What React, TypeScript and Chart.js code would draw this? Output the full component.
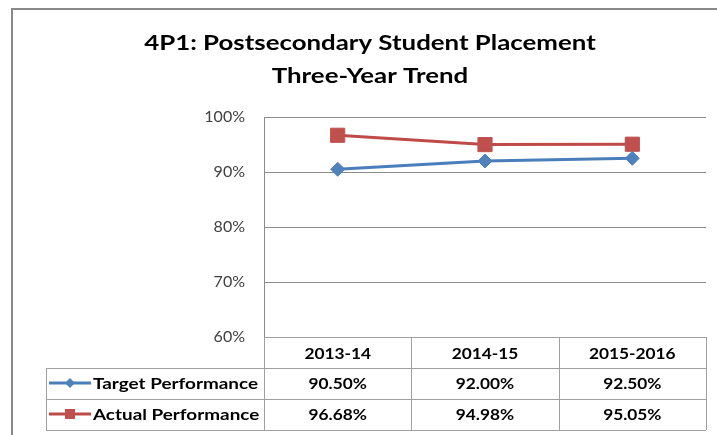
import React, { useEffect, useRef } from "react";
import { Chart, registerables } from "chart.js";

Chart.register(...registerables);

const titleLines = ["4P1: Postsecondary Student Placement", "Three-Year Trend"];
const categories = ["2013-14", "2014-15", "2015-2016"];
const seriesNames = ["Target Performance", "Actual Performance"];
const targetPerformance = [90.5, 92.0, 92.5];
const actualPerformance = [96.68, 94.98, 95.05];
const yMin = 60;
const yMax = 100;
const yStep = 10;

const BLUE_LINE = "#4A7EBB";
const BLUE_MARK = "#4F81BD";
const RED_LINE = "#BE4B48";
const RED_MARK = "#C0504D";
const GRID = "#8C8C8C";
const TABLE_LINE = "#A0A0A0";
const FONT = "Lato, Carlito, 'Open Sans', sans-serif";

const seriesValues = [targetPerformance, actualPerformance];
const seriesStyles = [
  { line: BLUE_LINE, mark: BLUE_MARK, shape: "diamond" },
  { line: RED_LINE, mark: RED_MARK, shape: "square" },
];

function drawMarker(ctx: CanvasRenderingContext2D, shape: string, x: number, y: number, r: number, color: string) {
  ctx.save();
  ctx.fillStyle = color;
  ctx.beginPath();
  if (shape === "diamond") {
    ctx.moveTo(x, y - r);
    ctx.lineTo(x + r, y);
    ctx.lineTo(x, y + r);
    ctx.lineTo(x - r, y);
    ctx.closePath();
  } else {
    ctx.rect(x - r, y - r, 2 * r, 2 * r);
  }
  ctx.fill();
  ctx.restore();
}

function wideText(
  ctx: CanvasRenderingContext2D,
  text: string,
  x: number,
  y: number,
  sx: number,
  align: "left" | "center"
) {
  ctx.save();
  ctx.translate(x, y);
  ctx.scale(sx, 1);
  ctx.textAlign = align;
  ctx.fillText(text, 0, 0);
  ctx.restore();
}

const framePlugin = {
  id: "frameAndTitle",
  beforeDraw(chart: any) {
    const ctx: CanvasRenderingContext2D = chart.ctx;
    ctx.save();
    ctx.fillStyle = "#FFFFFF";
    ctx.fillRect(0, 0, chart.width, chart.height);
    ctx.strokeStyle = "#898989";
    ctx.lineWidth = 2;
    ctx.strokeRect(12, 9, chart.width + 20, chart.height + 20);
    ctx.fillStyle = "#000000";
    ctx.font = `bold 21px ${FONT}`;
    ctx.textBaseline = "alphabetic";
    const cx = 370;
    titleLines.forEach((t, i) => wideText(ctx, t, cx, 50 + i * 33, 1.23, "center"));
    ctx.restore();
  },
};

const tablePlugin = {
  id: "dataTable",
  afterDraw(chart: any) {
    const ctx: CanvasRenderingContext2D = chart.ctx;
    const area = chart.chartArea;
    const xs = chart.scales.x;
    const n = categories.length;
    const colW = (area.right - area.left) / n;
    const rowH = 31;
    const top = area.bottom;
    const legendLeft = 46;
    const bottom = top + rowH * 3;
    ctx.save();
    ctx.strokeStyle = TABLE_LINE;
    ctx.lineWidth = 1;
    const hline = (x1: number, x2: number, y: number) => {
      ctx.beginPath();
      ctx.moveTo(x1, Math.round(y) + 0.5);
      ctx.lineTo(x2, Math.round(y) + 0.5);
      ctx.stroke();
    };
    const vline = (x: number, y1: number, y2: number) => {
      ctx.beginPath();
      ctx.moveTo(Math.round(x) + 0.5, y1);
      ctx.lineTo(Math.round(x) + 0.5, y2);
      ctx.stroke();
    };
    hline(area.left, area.right, top);
    for (let r = 1; r <= 3; r++) hline(legendLeft, area.right, top + r * rowH);
    vline(area.left, top, bottom);
    for (let k = 1; k <= n; k++) vline(area.left + k * colW, top, bottom);
    vline(legendLeft, top + rowH, bottom);

    ctx.fillStyle = "#000000";
    ctx.font = `bold 16px ${FONT}`;
    ctx.textBaseline = "middle";
    categories.forEach((c, i) => {
      wideText(ctx, c, xs.getPixelForValue(i), top + rowH / 2 + 1, 1.08, "center");
    });
    seriesValues.forEach((vals, s) => {
      const cy = top + rowH * (s + 1) + rowH / 2 + 0.5;
      vals.forEach((v, i) => {
        wideText(ctx, v.toFixed(2) + "%", xs.getPixelForValue(i), cy, 1.08, "center");
      });
      const st = seriesStyles[s];
      ctx.strokeStyle = st.line;
      ctx.lineWidth = 3;
      ctx.beginPath();
      ctx.moveTo(49, cy - 1);
      ctx.lineTo(91, cy - 1);
      ctx.stroke();
      drawMarker(ctx, st.shape, 70, cy - 1, st.shape === "diamond" ? 5 : 5, st.mark);
      ctx.fillStyle = "#000000";
      wideText(ctx, seriesNames[s], 93, cy, 1.18, "left");
    });
    ctx.restore();
  },
};

export default function App() {
  const ref = useRef<HTMLCanvasElement>(null);
  useEffect(() => {
    document.body.style.margin = "0";
    const chart = new Chart(ref.current as HTMLCanvasElement, {
      type: "line",
      data: {
        labels: categories,
        datasets: [
          {
            label: seriesNames[0],
            data: targetPerformance,
            borderColor: BLUE_LINE,
            backgroundColor: BLUE_MARK,
            borderWidth: 3,
            pointStyle: "rectRot",
            pointRadius: 7,
            pointBorderWidth: 1,
            pointBorderColor: BLUE_MARK,
            pointBackgroundColor: BLUE_MARK,
            tension: 0,
          },
          {
            label: seriesNames[1],
            data: actualPerformance,
            borderColor: RED_LINE,
            backgroundColor: RED_MARK,
            borderWidth: 3,
            pointStyle: "rect",
            pointRadius: 10,
            pointBorderWidth: 1,
            pointBorderColor: RED_MARK,
            pointBackgroundColor: RED_MARK,
            tension: 0,
          },
        ],
      },
      options: {
        responsive: false,
        animation: false,
        events: [],
        layout: { padding: { left: 11, top: 117, right: 9, bottom: 98 } },
        plugins: {
          legend: { display: false },
          tooltip: { enabled: false },
          title: { display: false },
        },
        scales: {
          x: {
            type: "category",
            offset: true,
            display: false,
            grid: { display: false },
          },
          y: {
            min: yMin,
            max: yMax,
            ticks: {
              stepSize: yStep,
              callback: (v: any) => v + "%",
              font: { family: FONT, size: 16 },
              color: "#404040",
              padding: 19,
            },
            grid: { color: GRID, drawTicks: false, lineWidth: 1 },
            border: { display: true, color: GRID },
            afterFit: (s: any) => {
              s.width = 253;
            },
          },
        },
      },
      plugins: [framePlugin, tablePlugin],
    });
    return () => chart.destroy();
  }, []);
  return (
    <div style={{ width: 717, height: 435 }}>
      <canvas ref={ref} width={717} height={435} style={{ display: "block", width: 717, height: 435 }} />
    </div>
  );
}
